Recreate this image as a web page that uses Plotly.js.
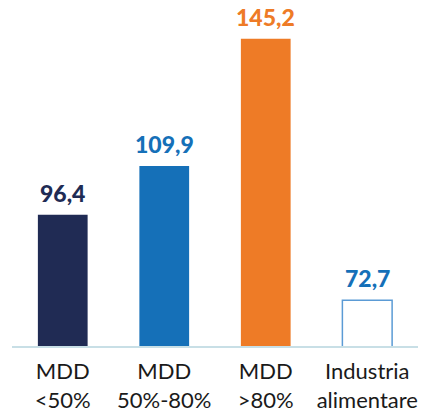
<!DOCTYPE html>
<html>
<head>
<meta charset="utf-8">
<script src="https://cdn.plot.ly/plotly-3.0.1.min.js"></script>
<style>html,body{margin:0;padding:0;background:#fff;}#chart{width:436px;height:416px;}</style>
</head>
<body>
<div id="chart"></div>
<script>
const categories = ["MDD<br><50%", "MDD<br>50%-80%", "MDD<br>>80%", "Industria<br>alimentare"];
const values = [96.4, 109.9, 145.2, 72.7];
const fillColors = ["#202b54", "#1570b8", "#ee7b26", "#ffffff"];
const lineColors = ["#202b54", "#1570b8", "#ee7b26", "#5b9bd5"];
const lineWidths = [0, 0, 0, 1.5];
const labelColors = ["#202b54", "#1570b8", "#ee7b26", "#1570b8"];

const trace = {
  type: "bar",
  x: categories,
  y: values,
  marker: {color: fillColors, line: {color: lineColors, width: lineWidths}},
  hoverinfo: "none"
};

const annotations = categories.map((c, i) => ({
  x: c, y: values[i], xref: "x", yref: "y",
  text: values[i].toFixed(1).replace(".", ","),
  showarrow: false, yanchor: "bottom", yshift: 6,
  font: {family: "Lato", size: 23, color: labelColors[i], weight: 900}
}));

const layout = {
  width: 436, height: 416,
  margin: {l: 12, r: 18, t: 10, b: 70},
  paper_bgcolor: "#fff", plot_bgcolor: "#fff",
  separators: ",.",
  showlegend: false,
  bargap: 0.51,
  font: {family: "Lato", color: "#1a1a1a"},
  annotations: annotations,
  xaxis: {
    showline: true, linecolor: "#c8dfe6", linewidth: 2,
    ticks: "", showgrid: false, zeroline: false,
    ticklabelstandoff: 5,
    tickfont: {family: "Lato", size: 22, color: "#1a1a1a"}
  },
  yaxis: {range: [60, 153.2], visible: false, showgrid: false, zeroline: false}
};

Plotly.newPlot("chart", [trace], layout, {displayModeBar: false, staticPlot: true});
</script>
</body>
</html>
